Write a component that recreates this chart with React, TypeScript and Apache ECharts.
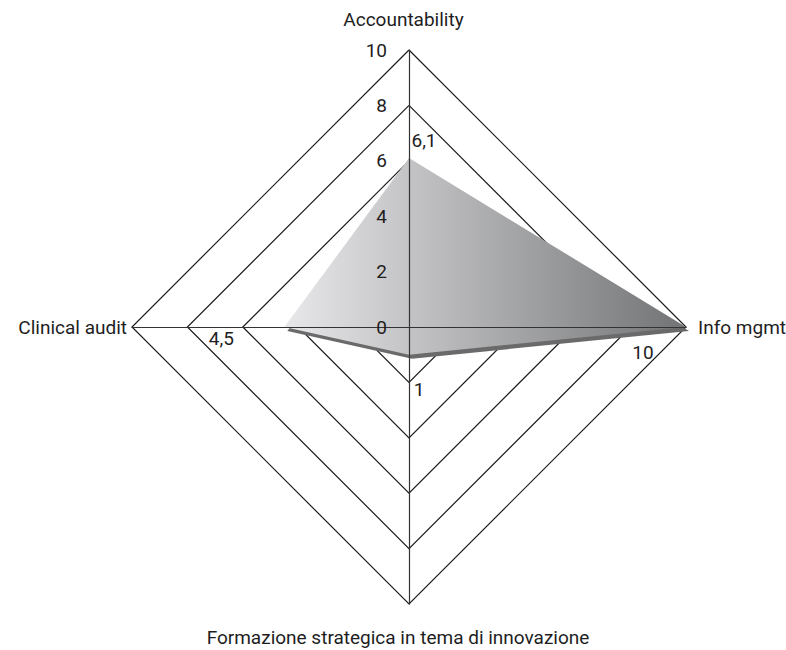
import React, { useEffect, useRef } from "react";
import * as echarts from "echarts";

// Radar axes (clockwise from the top: ECharts lays indicators out counter-clockwise,
// so the order here is top, left, bottom, right).
const indicatorNames = [
  "Accountability",
  "Clinical audit",
  "Formazione strategica in tema di innovazione",
  "Info mgmt",
];
const scores = [6.1, 4.5, 1, 10];
const axisMin = 0;
const axisMax = 10;
const splitCount = 5;

const FONT = "Roboto, 'Liberation Sans', sans-serif";
const FONT_SIZE = 19;
const TEXT = "#1e1e1e";

// Italian decimal comma for the value tags
const fmt = (v: number) => String(v).replace(".", ",");

// Where each value tag sits relative to its vertex
const tagOffsets: [number, number][] = [
  [15, -18],
  [-63, 11],
  [10, 35],
  [-43, 25],
];

// Extra spacing around each axis name: [top, right, bottom, left]
const namePadding: number[][] = [
  [0, 11, 16, 0],
  [0, 0, 0, 0],
  [19, 22, 0, 0],
  [0, 0, 0, 7],
];

const CENTER: [number, number] = [409, 327];
const SHADOW_CENTER: [number, number] = [412, 331];
const RADIUS = 277;

export default function App() {
  const ref = useRef<HTMLDivElement>(null);

  useEffect(() => {
    if (!ref.current) return;
    const chart = echarts.init(ref.current, undefined, { renderer: "svg" });

    const indicatorsPlain = indicatorNames.map((n) => ({ name: n, min: axisMin, max: axisMax }));
    const hidden = { show: false };

    const nameRich: Record<string, any> = {};
    namePadding.forEach((p, i) => {
      nameRich["n" + i] = {
        color: TEXT,
        fontSize: FONT_SIZE,
        fontFamily: FONT,
        padding: p,
      };
    });

    const option: any = {
      animation: false,
      backgroundColor: "#ffffff",
      radar: [
        {
          // grid diamonds and axis names
          center: CENTER,
          radius: RADIUS,
          startAngle: 90,
          shape: "polygon",
          splitNumber: splitCount,
          indicator: indicatorsPlain,
          nameGap: 5,
          axisName: {
            color: TEXT,
            fontSize: FONT_SIZE,
            fontFamily: FONT,
            formatter: (name: string) => `{n${indicatorNames.indexOf(name)}|${name}}`,
            rich: nameRich,
          },
          splitLine: { lineStyle: { color: "#1a1a1a", width: 1.2 } },
          splitArea: hidden,
          axisLine: hidden,
          axisTick: hidden,
          axisLabel: hidden,
          z: 0,
        },
        {
          // offset copy used for the drop shadow under the filled area
          center: SHADOW_CENTER,
          radius: RADIUS,
          startAngle: 90,
          shape: "polygon",
          splitNumber: splitCount,
          indicator: indicatorsPlain,
          axisName: hidden,
          splitLine: hidden,
          splitArea: hidden,
          axisLine: hidden,
          axisTick: hidden,
          axisLabel: hidden,
          z: 0,
        },
        {
          // axis spokes and scale labels drawn over the fill
          center: CENTER,
          radius: RADIUS,
          startAngle: 90,
          shape: "polygon",
          splitNumber: splitCount,
          indicator: indicatorNames.map((n, i) => ({
            name: n,
            min: axisMin,
            max: axisMax,
            axisLabel: { show: i === 0 },
          })),
          axisName: hidden,
          splitLine: hidden,
          splitArea: hidden,
          axisTick: hidden,
          axisLine: { show: true, lineStyle: { color: "#333333", width: 1.2 } },
          axisLabel: {
            show: true,
            color: TEXT,
            fontSize: FONT_SIZE,
            fontFamily: FONT,
            margin: 22,
            showMinLabel: true,
            showMaxLabel: true,
          },
          z: 5,
        },
      ],
      series: [
        {
          type: "radar",
          radarIndex: 1,
          z: 1,
          symbol: "none",
          silent: true,
          lineStyle: { width: 0, opacity: 0 },
          areaStyle: { color: "#6a6a6b", opacity: 1 },
          data: [{ value: scores }],
        },
        {
          type: "radar",
          radarIndex: 0,
          z: 2,
          symbol: "none",
          silent: true,
          lineStyle: { width: 0, opacity: 0 },
          areaStyle: {
            opacity: 1,
            color: new echarts.graphic.LinearGradient(0, 0, 1, 0, [
              { offset: 0, color: "#e8e8ea" },
              { offset: 1, color: "#727375" },
            ]),
          },
          data: [{ value: scores }],
        },
        ...scores.map((_, i) => ({
          type: "radar",
          radarIndex: 0,
          z: 6,
          symbol: "circle",
          symbolSize: 1,
          silent: true,
          itemStyle: { color: "transparent" },
          lineStyle: { width: 0, opacity: 0 },
          label: {
            show: true,
            position: "inside",
            offset: tagOffsets[i],
            color: TEXT,
            fontSize: FONT_SIZE,
            fontFamily: FONT,
            formatter: (p: any) => {
              const v = Array.isArray(p.value) ? null : p.value;
              const match = p.dimensionIndex != null ? p.dimensionIndex === i : v === scores[i];
              return match ? fmt(scores[i]) : "";
            },
          },
          data: [{ value: scores }],
        })),
      ],
    };

    chart.setOption(option);
    return () => chart.dispose();
  }, []);

  return (
    <div
      ref={ref}
      style={{ position: "absolute", left: 0, top: 0, width: 786, height: 650 }}
    />
  );
}
